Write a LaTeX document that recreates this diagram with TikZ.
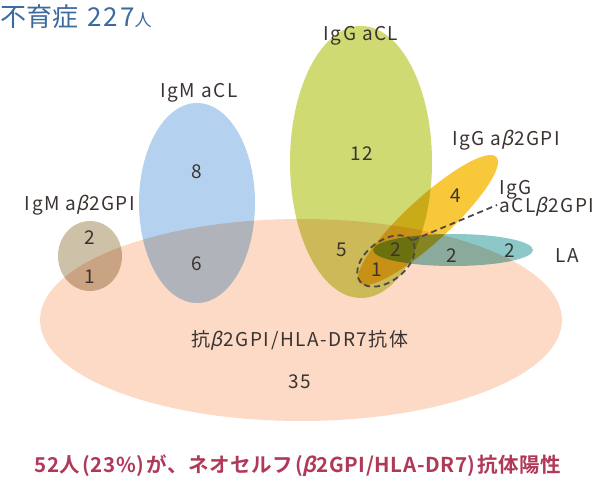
\documentclass[tikz,border=0pt]{standalone}
\usepackage{fontspec}
\setmainfont{Noto Sans CJK JP}
\newfontfamily\lf[LetterSpace=8]{Noto Sans CJK JP}
\newfontfamily\betaf[FakeSlant=0.22]{Noto Sans CJK JP}
\newfontfamily\betab[FakeSlant=0.22]{Noto Sans CJK JP Bold}
\newfontfamily\boldjp[LetterSpace=3]{Noto Sans CJK JP Bold}
\usetikzlibrary{shapes.geometric}
\definecolor{pinkc}{HTML}{FCDAC6}
\definecolor{bluec}{HTML}{B4D2F0}
\definecolor{greenc}{HTML}{CFDA72}
\definecolor{tanc}{HTML}{CDC1A8}
\definecolor{yellowc}{HTML}{F8C83A}
\definecolor{tealc}{HTML}{8CC8C8}
\definecolor{txt}{HTML}{3A3330}
\definecolor{titlec}{HTML}{3C6A9E}
\definecolor{redc}{HTML}{B0395A}
\newcommand{\bt}{{\betaf β\kern1pt}}
\tikzset{
  setc/.style={fill=#1, draw=none, blend mode=multiply},
  lbl/.style={text=txt, font=\lf\fontsize{19}{21}\selectfont, inner sep=0pt},
  num/.style={text=txt, font=\lf\fontsize{19}{21}\selectfont, inner sep=0pt},
  dsh/.style={draw=txt!90, line width=1.8pt, dash pattern=on 6pt off 4pt},
}
\begin{document}
\begin{tikzpicture}[x=1pt,y=1pt]
\useasboundingbox (0,0) rectangle (600,480);
\begin{scope}[transparency group]
\fill[pinkc] (301,160) ellipse [x radius=261, y radius=101];
\fill[setc=tanc] (90,224) ellipse [x radius=32, y radius=35];
\fill[setc=bluec] (197,277) ellipse [x radius=58, y radius=100];
\fill[setc=greenc] (361,318) ellipse [x radius=71, y radius=136];
\fill[setc=yellowc] (428,260) ellipse [x radius=93, y radius=22, rotate=42.6];
\fill[setc=tealc] (453,230) ellipse [x radius=80, y radius=16];
\end{scope}
\node[dsh, ellipse, rotate=38, minimum width=66pt, minimum height=40pt, inner sep=0pt] (dl) at (386,219) {};
\coordinate (dend) at (497,275);
\draw[dsh] (dl.east) -- (dend);
% title
\node[anchor=west, text=titlec, inner sep=0pt, font=\fontsize{26}{28}\selectfont] (title) at (0,463) {不育症\kern9pt{\lf 227}{\fontsize{17}{18}\selectfont 人}};
% labels
\node[lbl] (lIgMaCL) at (199,387) {IgM aCL};
\node[lbl] (lIgGaCL) at (361,444) {IgG aCL};
\node[lbl] (lIgMb) at (80,275) {IgM a\bt2GPI};
\node[lbl] (lIgGb) at (506,340) {IgG a\bt2GPI};
\node[lbl, anchor=west, align=left] (lIgGc) at (499,282) {IgG\\[-3pt]aCL\bt2GPI};
\node[lbl] (lLA) at (567,224) {LA};
\node[lbl] (lHLA) at (300,140) {抗\bt2GPI/HLA-DR7抗体};
% numbers
\node[num] (n8) at (197,308) {8};
\node[num] (n6) at (197,216) {6};
\node[num] (n12) at (362,326) {12};
\node[num] (nt2) at (90,242) {2};
\node[num] (nt1) at (90,203) {1};
\node[num] (n5) at (342,230) {5};
\node[num] (nd2) at (396,230) {2};
\node[num] (nd1) at (377,210) {1};
\node[num] (n4) at (456,284) {4};
\node[num] (nl2a) at (452,224) {2};
\node[num] (nl2b) at (510,229) {2};
\node[num] (n35) at (300,98) {35};
% bottom
\node[text=redc, inner sep=0pt, font=\boldjp\fontsize{20.5}{22}\selectfont] (bottom) at (298,14) {52人\kern2pt(23\%)\kern2pt が、ネオセルフ\kern2pt({\betab β}2GPI/HLA-DR7)\kern2pt 抗体陽性};
\end{tikzpicture}
\end{document}
